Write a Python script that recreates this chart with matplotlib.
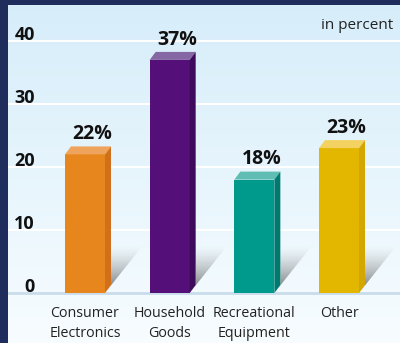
import numpy as np
import matplotlib
matplotlib.use("Agg")
from matplotlib import pyplot as plt
from matplotlib.patches import Polygon

categories = ["Consumer\nElectronics", "Household\nGoods", "Recreational\nEquipment", "Other"]
values = [22, 37, 18, 23]
labels = ["22%", "37%", "18%", "23%"]
yticks = [0, 10, 20, 30, 40]

front = ["#e8861e", "#540f78", "#009a8c", "#e3b700"]
top = ["#eea45c", "#8567a3", "#5fbdb4", "#f3d261"]
side = ["#d0701a", "#3e0a5b", "#007a6f", "#d4a600"]

plt.rcParams['font.family'] = ['Open Sans', 'DejaVu Sans']

W, H = 400, 343
fig = plt.figure(figsize=(W / 100, H / 100), dpi=100)
fig.patch.set_facecolor("#1f2d5c")
ax = fig.add_axes([8 / W, 0, 392 / W, 338 / H])

# pixel scales: 84.67 px per category, 6.3 px per percent, zero at y=293
px_x = 84.67
px_y = 6.3
xlim = ((8 - 85) / px_x, (400 - 85) / px_x)
ylim = (-(343 - 293) / px_y, (293 - 5) / px_y)
ax.axis("off")

# background gradient
grad = np.linspace(0, 1, 256)[:, None]
c_top = np.array([0.84, 0.93, 0.98])
c_bot = np.array([0.97, 0.99, 1.0])
img = c_top * (1 - grad[..., None]) + c_bot * grad[..., None]
img = np.repeat(img, 2, axis=1)
ax.imshow(img, extent=[*xlim, *ylim], aspect="auto", origin="upper", zorder=0)

for t in yticks[1:]:
    ax.axhline(t, color="white", lw=1.5, zorder=1)
ax.axhline(0, color="#c9dcea", lw=2.0, zorder=1)

for t in yticks:
    ax.text(0.068, t + 0.2, str(t), transform=ax.get_yaxis_transform(),
            ha="right", va="baseline", fontsize=13, fontweight="bold", color="#111111")

ax.text(0.982, 0.94, "in percent", transform=ax.transAxes, ha="right", va="center",
        fontsize=11, color="#222222")

w = 40 / px_x
sd = 6 / px_x
dz = 8 / px_y

for i, v in enumerate(values):
    l, r = i - w / 2, i + w / 2
    # shadow
    shadow_top = 7.5
    poly = Polygon([(r, 0), (r + sd, dz), (r + sd, shadow_top), (r + 0.443, shadow_top)],
                   closed=True, facecolor="none", edgecolor="none")
    ax.add_patch(poly)
    g = np.linspace(0, 1, 100)[:, None]
    sh = np.zeros((100, 2, 4))
    sh[..., :3] = 0.3
    sh[..., 3] = (0.8 * (1 - g) ** 1.4)
    im = ax.imshow(sh, extent=[r, r + 0.45, 0, shadow_top], origin="lower",
                   aspect="auto", zorder=2)
    im.set_clip_path(poly)
    # front
    ax.bar(i, v, width=w, color=front[i], zorder=3, linewidth=0)
    # top face
    ax.add_patch(Polygon([(l, v), (l + sd, v + dz), (r + sd, v + dz), (r, v)],
                         closed=True, facecolor=top[i], edgecolor="none", zorder=3))
    # side face
    ax.add_patch(Polygon([(r, 0), (r + sd, dz), (r + sd, v + dz), (r, v)],
                         closed=True, facecolor=side[i], edgecolor="none", zorder=3))
    ax.text(i + 0.09, v + 2.4, labels[i], ha="center", va="baseline",
            fontsize=14, fontweight="bold", color="#111111", zorder=4)
    ax.text(i, -2.0, categories[i], ha="center", va="top", fontsize=10.3,
            linespacing=1.45, color="#222222", zorder=4)

ax.set_xlim(*xlim)
ax.set_ylim(*ylim)

fig.savefig("out.png", dpi=100, facecolor=fig.get_facecolor())
